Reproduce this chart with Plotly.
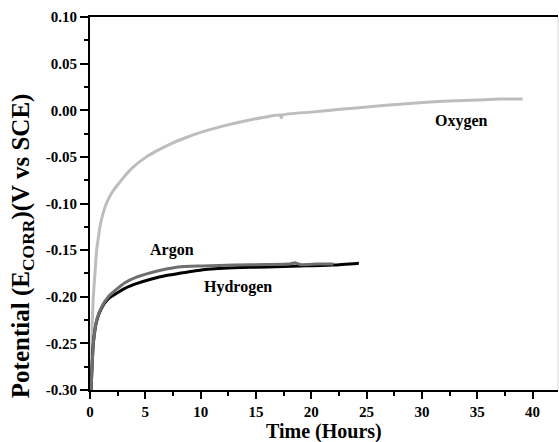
import plotly.graph_objects as go

# Open-circuit potential vs time under three gas atmospheres
oxygen_t = [0.12, 0.16, 0.2, 0.3, 0.45, 0.6, 0.75, 0.9, 1.15, 1.48, 2.0, 2.83, 3.8, 5.09,
            6.2, 7.35, 8.7, 10.06, 12.0, 14.0, 15.5, 17.2, 17.3, 17.4, 20.0, 22.6, 25.5,
            28.0, 30.4, 32.5, 35.0, 37.0, 39.1]
oxygen_e = [-0.300, -0.265, -0.229, -0.200, -0.175, -0.150, -0.137, -0.125, -0.112, -0.100,
            -0.088, -0.075, -0.062, -0.050, -0.0425, -0.0357, -0.0292, -0.0235, -0.017,
            -0.0115, -0.008, -0.005, -0.008, -0.005, -0.002, 0.001, 0.004, 0.0065, 0.0085,
            0.010, 0.011, 0.012, 0.012]

argon_t = [0.1, 0.15, 0.3, 0.6, 1.05, 1.66, 2.3, 3.16, 4.2, 5.57, 7.0, 8.0, 10.2, 13.0,
           16.0, 18.0, 18.5, 19.0, 20.5, 22.0]
argon_e = [-0.300, -0.285, -0.250, -0.225, -0.211, -0.200, -0.193, -0.185, -0.179, -0.174,
           -0.170, -0.168, -0.167, -0.166, -0.1655, -0.165, -0.1635, -0.1655, -0.165, -0.165]

hydrogen_t = [0.1, 0.15, 0.3, 0.6, 1.05, 1.66, 2.3, 3.16, 4.2, 5.57, 7.0, 8.0, 10.2, 13.0,
              16.0, 19.0, 22.0, 24.3]
hydrogen_e = [-0.300, -0.285, -0.250, -0.226, -0.212, -0.202, -0.197, -0.191, -0.186, -0.181,
              -0.177, -0.175, -0.171, -0.169, -0.168, -0.167, -0.166, -0.164]

x_tick_vals = [0, 5, 10, 15, 20, 25, 30, 35, 40]
x_tick_labels = ["0", "5", "10", "15", "20", "25", "30", "35", "40"]
y_tick_vals = [0.10, 0.05, 0.00, -0.05, -0.10, -0.15, -0.20, -0.25, -0.30]
y_tick_labels = ["0.10", "0.05", "0.00", "-0.05", "-0.10", "-0.15", "-0.20", "-0.25", "-0.30"]

series_names = ["Oxygen", "Argon", "Hydrogen"]
label_pos = [(33.6, -0.012), (7.4, -0.150), (13.4, -0.190)]

FONT = "Liberation Serif"


def bold(labels):
    return ["<b>%s</b>" % s for s in labels]


fig = go.Figure()
fig.add_trace(go.Scatter(x=oxygen_t, y=oxygen_e, mode="lines", name="Oxygen",
                         line=dict(color="#bdbdbd", width=3, shape="spline", smoothing=0.5)))
fig.add_trace(go.Scatter(x=hydrogen_t, y=hydrogen_e, mode="lines", name="Hydrogen",
                         line=dict(color="#000000", width=3, shape="spline", smoothing=0.5)))
fig.add_trace(go.Scatter(x=argon_t, y=argon_e, mode="lines", name="Argon",
                         line=dict(color="#6e6e6e", width=3, shape="spline", smoothing=0.5)))

for name, (lx, ly) in zip(series_names, label_pos):
    fig.add_annotation(x=lx, y=ly, text="<b>%s</b>" % name, showarrow=False,
                       font=dict(family=FONT, size=16, color="black"))

fig.add_annotation(xref="paper", yref="paper", x=0.5, y=-0.112, text="<b>Time (Hours)</b>",
                   showarrow=False, yanchor="middle",
                   font=dict(family=FONT, size=20, color="black"))
fig.add_annotation(xref="paper", yref="paper", x=-0.145, y=0.386,
                   text="<b>Potential (E<sub>CORR</sub>)(V vs SCE)</b>", textangle=-90,
                   showarrow=False, xanchor="center", yanchor="middle",
                   font=dict(family=FONT, size=25, color="black"))

# faint right border of the frame
fig.add_shape(type="line", xref="paper", yref="paper", x0=1, x1=1, y0=0, y1=1,
              line=dict(color="#d8d8d8", width=1))

fig.update_xaxes(range=[0, 42.3], tickvals=x_tick_vals, ticktext=bold(x_tick_labels),
                 ticks="outside", ticklen=7,
                 tickwidth=2, tickcolor="black", showline=True, linewidth=2,
                 linecolor="black", mirror=True, showgrid=False, zeroline=False,
                 minor=dict(dtick=2.5, tick0=0, ticks="outside", ticklen=4, tickwidth=2,
                            tickcolor="black", showgrid=False),
                 tickfont=dict(family=FONT, size=15, color="black"))
fig.update_yaxes(range=[-0.30, 0.10], tickvals=y_tick_vals, ticktext=bold(y_tick_labels),
                 ticks="outside", ticklen=8, tickwidth=2, tickcolor="black",
                 showline=True, linewidth=2, linecolor="black", showgrid=False,
                 zeroline=False,
                 minor=dict(dtick=0.025, tick0=0, ticks="outside", ticklen=4, tickwidth=2,
                            tickcolor="black", showgrid=False),
                 tickfont=dict(family=FONT, size=15, color="black"))

fig.update_layout(width=559, height=442, margin=dict(l=90, r=1, t=17, b=52),
                  plot_bgcolor="white", paper_bgcolor="white", showlegend=False)

fig.write_html("out.html")
